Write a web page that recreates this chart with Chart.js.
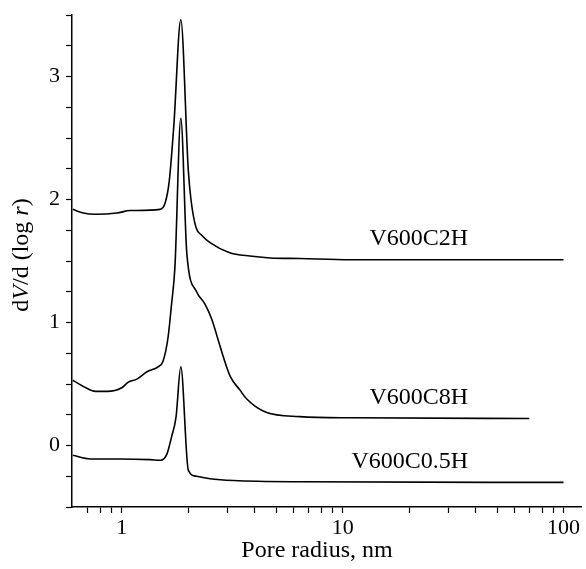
<!DOCTYPE html>
<html>
<head>
<meta charset="utf-8">
<script src="https://cdn.jsdelivr.net/npm/chart.js@4"></script>
<style>
  body { margin: 0; background: #fff; }
  #wrap { width: 586px; height: 569px; }
</style>
</head>
<body>
<div id="wrap"><canvas id="psd" width="586" height="569"></canvas></div>
<script>
// Pore size distributions
const c2hX = [0.6, 0.67, 0.76, 0.95, 1.09, 1.49, 1.57, 1.64, 1.72, 1.85, 2.0, 2.06, 2.17, 2.3, 2.51, 3.06, 3.8, 4.7, 6.4, 10.8, 100];
const c2hY = [1.92, 1.89, 1.88, 1.89, 1.91, 1.92, 1.97, 2.15, 2.6, 3.46, 2.24, 1.99, 1.77, 1.71, 1.65, 1.57, 1.54, 1.525, 1.52, 1.51, 1.51];

const c8hX = [0.6, 0.67, 0.76, 0.86, 1.0, 1.07, 1.17, 1.30, 1.46, 1.54, 1.62, 1.68, 1.74, 1.85, 1.97, 2.18, 2.38, 2.55, 2.74, 2.93, 3.1, 3.43, 3.67, 4.5, 6.4, 10.8, 70];
const c8hY = [0.53, 0.48, 0.44, 0.44, 0.47, 0.515, 0.54, 0.60, 0.64, 0.69, 0.88, 1.15, 1.45, 2.66, 1.56, 1.25, 1.15, 1.03, 0.85, 0.68, 0.56, 0.45, 0.38, 0.27, 0.235, 0.225, 0.22];

const c05hX = [0.6, 0.72, 0.98, 1.34, 1.5, 1.6, 1.68, 1.76, 1.85, 2.0, 2.18, 2.51, 3.2, 6.4, 100];
const c05hY = [-0.08, -0.11, -0.11, -0.115, -0.12, -0.07, 0.07, 0.23, 0.64, -0.20, -0.25, -0.27, -0.285, -0.295, -0.30];

const seriesNames = ['V600C2H', 'V600C8H', 'V600C0.5H'];
const nameAtX = [37, 37, 37];   // right end of each curve label, in nm

const xTickLabels = [1, 10, 100];
const xMinorTicks = [0.7, 0.8, 0.9, 2, 3, 4, 5, 6, 7, 8, 9, 20, 30, 40, 50, 60, 70, 80, 90];
const yTickLabels = [0, 1, 2, 3];

const serif = '"Liberation Serif", "DejaVu Serif", serif';

function toPoints(xs, ys) {
    return xs.map((x, i) => ({ x: x, y: ys[i] }));
}

function lineSet(name, xs, ys) {
    return {
        label: name,
        data: toPoints(xs, ys),
        borderColor: '#000',
        borderWidth: 1.6,
        pointRadius: 0,
        fill: false,
        cubicInterpolationMode: 'monotone'
    };
}

// axis titles (y title has italic V and r) and the curve labels
const textPlugin = {
    id: 'textPlugin',
    afterDraw(chart) {
        const ctx = chart.ctx;
        const xs = chart.scales.x, ys = chart.scales.y;
        ctx.save();
        ctx.fillStyle = '#000';

        // x title
        ctx.font = '24px ' + serif;
        ctx.textAlign = 'center';
        ctx.textBaseline = 'middle';
        ctx.fillText('Pore radius, nm', 317, 551);

        // y title, rotated
        const parts = [['d', false], ['V', true], ['/d (log ', false], ['r', true], [')', false]];
        let total = 0;
        parts.forEach(p => {
            ctx.font = (p[1] ? 'italic ' : '') + '24px ' + serif;
            total += ctx.measureText(p[0]).width;
        });
        ctx.translate(22, 255);
        ctx.rotate(-Math.PI / 2);
        ctx.textAlign = 'left';
        let cx = -total / 2;
        parts.forEach(p => {
            ctx.font = (p[1] ? 'italic ' : '') + '24px ' + serif;
            ctx.fillText(p[0], cx, 0);
            cx += ctx.measureText(p[0]).width;
        });
        ctx.setTransform(1, 0, 0, 1, 0, 0);

        // curve labels above the flat tails
        ctx.font = '24px ' + serif;
        ctx.textAlign = 'right';
        ctx.textBaseline = 'middle';
        chart.data.datasets.forEach((ds, i) => {
            const last = ds.data[ds.data.length - 1];
            ctx.fillText(seriesNames[i], xs.getPixelForValue(nameAtX[i]), ys.getPixelForValue(last.y) - 21);
        });
        ctx.restore();
    }
};

const chart = new Chart(document.getElementById('psd').getContext('2d'), {
    type: 'line',
    data: {
        datasets: [
            lineSet(seriesNames[0], c2hX, c2hY),
            lineSet(seriesNames[1], c8hX, c8hY),
            lineSet(seriesNames[2], c05hX, c05hY)
        ]
    },
    options: {
        responsive: false,
        animation: false,
        layout: { padding: { top: 15, right: 5, left: 0, bottom: 0 } },
        plugins: {
            legend: { display: false },
            tooltip: { enabled: false }
        },
        scales: {
            x: {
                type: 'logarithmic',
                min: 0.595,
                max: 120,
                afterFit: s => { s.height = 62; s.paddingLeft = 0; s.paddingRight = 0; },
                afterBuildTicks: s => {
                    s.ticks = xMinorTicks.concat(xTickLabels).sort((a, b) => a - b).map(v => ({ value: v }));
                },
                ticks: {
                    autoSkip: false,
                    maxRotation: 0,
                    padding: 2,
                    color: '#000',
                    font: { family: serif, size: 22 },
                    callback: v => xTickLabels.includes(v) ? String(v) : ''
                },
                grid: { drawOnChartArea: false, drawTicks: true, tickLength: 6, color: '#000', tickWidth: 1.2 },
                border: { display: true, color: '#000', width: 1.5 }
            },
            y: {
                min: -0.5,
                max: 3.5,
                afterFit: s => { s.width = 72; s.paddingTop = 0; s.paddingBottom = 0; },
                ticks: {
                    stepSize: 0.25,
                    padding: 6,
                    color: '#000',
                    font: { family: serif, size: 22 },
                    callback: v => yTickLabels.includes(v) ? String(v) : ''
                },
                grid: { drawOnChartArea: false, drawTicks: true, tickLength: 6, color: '#000', tickWidth: 1.2 },
                border: { display: true, color: '#000', width: 1.5 }
            }
        }
    },
    plugins: [textPlugin]
});
</script>
</body>
</html>
